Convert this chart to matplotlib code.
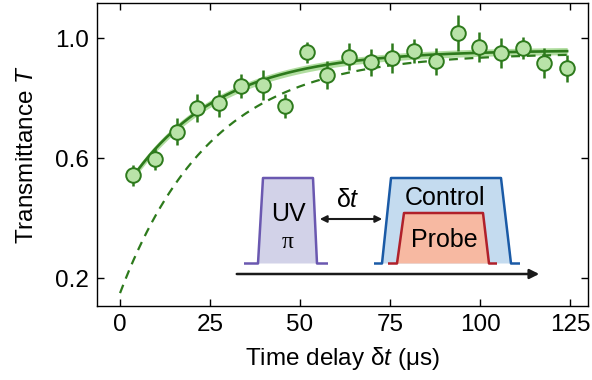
import numpy as np
import matplotlib
matplotlib.use("Agg")
import matplotlib.pyplot as plt
from matplotlib.patches import Polygon, FancyArrowPatch

plt.rcParams['font.family'] = ['Liberation Sans', 'DejaVu Sans']
plt.rcParams['mathtext.fontset'] = 'custom'
plt.rcParams['mathtext.it'] = 'Liberation Sans:italic'
plt.rcParams['mathtext.rm'] = 'Liberation Sans'

# measured transmittance vs delay
delay = [3.6, 9.7, 15.8, 21.4, 27.5, 33.6, 39.7, 45.8, 51.9, 57.5, 63.6,
         69.7, 75.6, 81.7, 87.8, 93.9, 99.7, 105.8, 111.9, 117.8, 124.2]
trans = [0.543, 0.597, 0.687, 0.767, 0.783, 0.840, 0.843, 0.773, 0.953, 0.877, 0.937,
         0.920, 0.933, 0.957, 0.923, 1.017, 0.970, 0.950, 0.967, 0.917, 0.900]
err = [0.035, 0.035, 0.045, 0.045, 0.045, 0.04, 0.05, 0.04, 0.035, 0.045, 0.045,
       0.045, 0.05, 0.04, 0.045, 0.06, 0.05, 0.05, 0.035, 0.05, 0.045]

# fit (solid) and model (dashed): T = A - B exp(-t / tau)
fit_A, fit_B, fit_tau = 0.96, 0.487, 25.0
model_A, model_B, model_tau = 0.95, 0.80, 25.3

dark = '#2d7a1c'
light = '#b9e3a8'
band = '#9fd68a'
fs = 17.5

fig = plt.figure(figsize=(5.92, 3.80), dpi=100)
ax = fig.add_axes([97 / 592, 74 / 380, 491 / 592, 303 / 380])

t_fit = np.linspace(delay[0], delay[-1], 300)
y_fit = fit_A - fit_B * np.exp(-t_fit / fit_tau)
t_mod = np.linspace(0, delay[-1], 300)
y_mod = model_A - model_B * np.exp(-t_mod / model_tau)

ax.fill_between(t_fit, y_fit - 0.012, y_fit + 0.012, color=band, lw=0, alpha=0.8, zorder=1)
ax.plot(t_fit, y_fit, color=dark, lw=1.9, zorder=2)
ax.plot(t_mod, y_mod, color=dark, lw=1.6, ls=(0, (4, 3)), zorder=2)
ax.errorbar(delay, trans, yerr=err, fmt='o', ms=10.5, mfc=light, mec=dark, mew=1.4,
            ecolor=dark, elinewidth=1.8, capsize=0, zorder=3)

ax.set_xlim(-6.4, 130)
ax.set_ylim(0.107, 1.117)
ax.set_xticks([0, 25, 50, 75, 100, 125])
ax.set_yticks([0.2, 0.6, 1.0])
ax.tick_params(direction='in', top=True, right=True, length=5, width=1,
               labelsize=fs, pad=6)
for s in ax.spines.values():
    s.set_linewidth(1)
ax.set_xlabel(r'Time delay $\mathrm{\delta}t$ (μs)', fontsize=fs, labelpad=6)
ax.set_ylabel(r'Transmittance $T$', fontsize=fs, labelpad=12)

# pulse-sequence schematic, in pixel units of the figure
ins = fig.add_axes([228 / 592, (380 - 290) / 380, 320 / 592, 125 / 380])
ins.set_xlim(228, 548)
ins.set_ylim(290, 165)
ins.axis('off')

base = 263.5


def pulse(x0, x1, x2, x3, x4, x5, top, edge, face):
    pts = [(x0, base), (x1, base), (x2, top), (x3, top), (x4, base), (x5, base)]
    ins.add_patch(Polygon(pts[1:5], closed=True, fc=face, ec='none'))
    ins.add_patch(Polygon(pts, closed=False, fill=False, ec=edge, lw=1.8,
                          joinstyle='round'))


pulse(244, 258, 263, 313, 317, 328, 178, '#6a58b0', '#d2d2e8')
pulse(374, 382, 391, 501, 511, 520, 178, '#1a5aa6', '#c4dbef')
pulse(388, 397, 404, 483, 489, 497, 213, '#b0202a', '#f7b9a2')

ins.text(288, 214, 'UV', ha='center', va='center', fontsize=18)
ins.text(288, 243, 'π', ha='center', va='center', fontsize=17, family='Liberation Serif')
ins.text(445, 198, 'Control', ha='center', va='center', fontsize=18)
ins.text(444, 240, 'Probe', ha='center', va='center', fontsize=18)
ins.text(348, 200, r'$\mathrm{\delta}t$', ha='center', va='center', fontsize=18)

ins.add_patch(FancyArrowPatch((317, 219), (385, 219), arrowstyle='<|-|>',
                              mutation_scale=10, lw=1.5, color='#1a1a1a'))
ins.add_patch(FancyArrowPatch((234, 274), (542, 274), arrowstyle='-|>',
                              mutation_scale=14, lw=1.8, color='#1a1a1a'))

fig.savefig('out.png', dpi=100)
